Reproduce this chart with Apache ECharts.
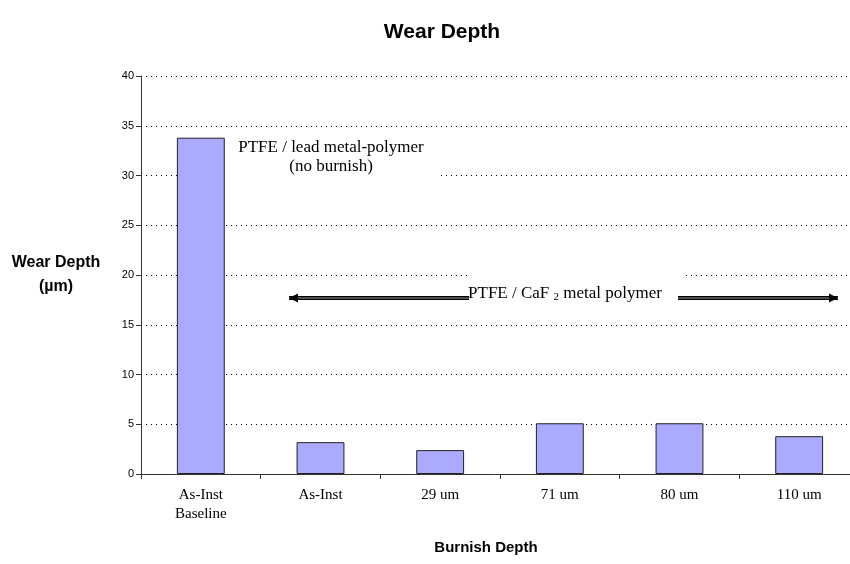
<!DOCTYPE html>
<html>
<head>
<meta charset="utf-8">
<script src="https://cdn.jsdelivr.net/npm/echarts@6/dist/echarts.min.js"></script>
<style>
  html, body { margin: 0; padding: 0; background: #fff; }
  #main { width: 850px; height: 564px; }
</style>
</head>
<body>
<div id="main"></div>
<script>
// 横坐标类别
const categories = ["As-Inst\nBaseline", "As-Inst", "29 um", "71 um", "80 um", "110 um"];
// 磨损深度 (µm)
const wearDepth = [33.8, 3.2, 2.4, 5.1, 5.1, 3.8];
// y轴刻度
const yTicks = [0, 5, 10, 15, 20, 25, 30, 35, 40];

const myChart = echarts.init(document.getElementById("main"));

// 双线箭头
function arrow(x1, x2, y, dir) {
  const tip = dir > 0 ? x2 : x1;
  return [
    { type: "line", shape: { x1: x1, y1: y, x2: x2, y2: y }, style: { stroke: "#000", lineWidth: 4 }, z: 10 },
    { type: "line", shape: { x1: x1, y1: y, x2: x2, y2: y }, style: { stroke: "#999", lineWidth: 1.2 }, z: 11 },
    { type: "polygon", shape: { points: [[tip, y], [tip - dir * 9, y - 4.5], [tip - dir * 9, y + 4.5]] }, style: { fill: "#000" }, z: 12 }
  ];
}

const option = {
  animation: false,
  title: {
    text: "Wear Depth",
    left: 437,
    textAlign: "center",
    top: 17,
    textStyle: { fontFamily: "Liberation Sans", fontSize: 21, fontWeight: "bold", color: "#000" }
  },
  grid: { left: 141, top: 76, width: 718, height: 398, outerBoundsMode: "none" },
  xAxis: {
    type: "category",
    data: categories,
    axisLine: { show: true, lineStyle: { color: "#333", width: 1 } },
    axisTick: { show: true, alignWithLabel: false, length: 5, lineStyle: { color: "#333" } },
    axisLabel: {
      interval: 0,
      margin: 12,
      lineHeight: 19,
      fontFamily: "Liberation Serif",
      fontSize: 15,
      color: "#000"
    }
  },
  yAxis: {
    type: "value",
    min: 0,
    max: 40,
    interval: 5,
    axisLine: { show: true, lineStyle: { color: "#333", width: 1 } },
    axisTick: { show: true, length: 5, lineStyle: { color: "#333" } },
    axisLabel: {
      margin: 7,
      fontFamily: "Liberation Sans",
      fontSize: 11,
      color: "#000",
      formatter: function (v) { return yTicks.indexOf(v) >= 0 ? String(v) : ""; }
    },
    splitLine: { show: true, lineStyle: { color: "#000", type: [1, 4], width: 1 } }
  },
  series: [
    {
      type: "bar",
      data: wearDepth,
      barWidth: "40%",
      itemStyle: { color: "#aaaaff", borderColor: "#222", borderWidth: 1 }
    }
  ],
  graphic: [
    {
      type: "text",
      x: 56, y: 275,
      style: {
        text: "Wear Depth\n(µm)",
        align: "center",
        verticalAlign: "middle",
        lineHeight: 24,
        font: "bold 16px 'Liberation Sans'",
        fill: "#000"
      }
    },
    {
      type: "text",
      x: 486, y: 548,
      style: {
        text: "Burnish Depth",
        align: "center",
        verticalAlign: "middle",
        font: "bold 15px 'Liberation Sans'",
        fill: "#000"
      }
    },
    // 文本框白底
    { type: "rect", shape: { x: 226, y: 136, width: 214, height: 44 }, style: { fill: "#fff" }, z: 8 },
    { type: "rect", shape: { x: 469, y: 272, width: 214, height: 44 }, style: { fill: "#fff" }, z: 8 },
    {
      type: "text",
      x: 331, y: 157,
      style: {
        text: "PTFE / lead metal-polymer\n(no burnish)",
        align: "center",
        verticalAlign: "middle",
        lineHeight: 19,
        font: "17px 'Liberation Serif'",
        fill: "#000"
      },
      z: 9
    },
    {
      type: "text",
      x: 565, y: 294,
      style: {
        rich: {
          n: { font: "17px 'Liberation Serif'", fill: "#000" },
          s: { font: "11px 'Liberation Serif'", fill: "#000", padding: [7, 0, 0, 0] }
        },
        text: "{n|PTFE / CaF }{s|2}{n| metal polymer}",
        align: "center",
        verticalAlign: "middle"
      },
      z: 9
    }
  ].concat(arrow(289, 469, 298, -1), arrow(678, 838, 298, 1))
};

myChart.setOption(option);
window.addEventListener("resize", () => { myChart.resize(); });
</script>
</body>
</html>
